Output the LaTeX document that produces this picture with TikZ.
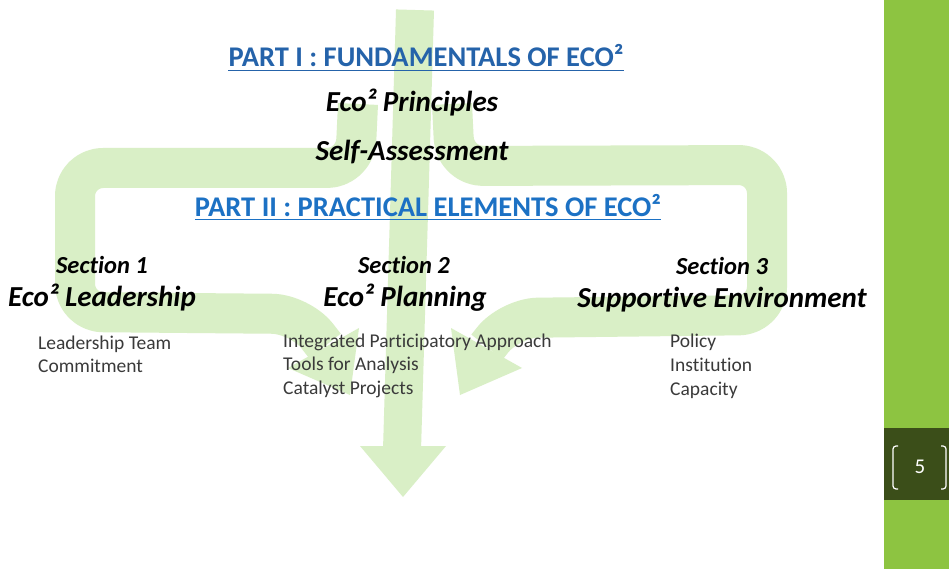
\documentclass[tikz,border=0pt]{standalone}
\usepackage{fontspec}
\setmainfont{Carlito}[Ligatures=NoCommon]
\definecolor{leaf}{HTML}{D9EFC6}
\definecolor{partblue}{HTML}{2563AA}
\definecolor{partbluetwo}{HTML}{1C71C4}
\definecolor{itemgray}{HTML}{3A3A3A}
\definecolor{sidegreen}{HTML}{8DC441}
\definecolor{sidedark}{HTML}{3B4E19}
\begin{document}
\begin{tikzpicture}[x=1pt,y=-1pt,
  parttitle/.style={font=\fontsize{28.5}{30}\selectfont\bfseries, text=partblue, inner sep=0pt, anchor=base},
  heading/.style={font=\fontsize{29}{31}\selectfont\bfseries\itshape, text=black, inner sep=0pt, anchor=base},
  sectitle/.style={font=\fontsize{24.5}{27}\selectfont\bfseries\itshape, text=black, inner sep=0pt, anchor=base},
  item/.style={font=\fontsize{19.5}{21}\selectfont, text=itemgray, inner sep=0pt, anchor=base west},
  band/.style={draw=leaf, line width=40pt, rounded corners=28pt, line cap=butt, line join=round},
  ulines/.style={line width=1.4pt}
]
\useasboundingbox (0,0) rectangle (949,569);
\fill[white] (0,0) rectangle (949,569);

% green arrow shape
\draw[band, line width=38pt] (415,10) -- (402,450);
\fill[leaf] (360,446) -- (446,446) -- (403,497) -- cycle;
\draw[band] (358,104) -- (355,168) -- (75,168) -- (75,312) -- (300,314) -- (325,346);
\fill[leaf] (359,328) -- (288,368) -- (350,395) -- cycle;
\draw[band] (452,104) -- (455,166) -- (767,165) -- (767,315) -- (510,318) -- (487,347);
\fill[leaf] (451,328) -- (522,368) -- (460,395) -- cycle;

% side bar
\fill[sidegreen] (884,0) rectangle (949,569);
\fill[sidedark] (884,428) rectangle (949,500);
\draw[white, line width=1.2pt, rounded corners=3pt] (898,446) -- (893,446) -- (893,489) -- (898,489);
\draw[white, line width=1.2pt, rounded corners=3pt] (941,446) -- (946,446) -- (946,489) -- (941,489);
\node[font=\fontsize{21}{23}\selectfont, text=white, inner sep=0pt] (pg) at (920,467) {5};

% titles
\node[parttitle] (p1) at (426,67) {PART I : FUNDAMENTALS OF ECO²};
\draw[ulines, draw=partblue] ([yshift=-3.5pt]p1.base west) -- ([yshift=-3.5pt]p1.base east);
\node[heading] (pr) at (412,112) {Eco² Principles};
\node[heading] (sa) at (412,161) {Self-Assessment};
\node[parttitle, text=partbluetwo] (p2) at (428,216) {PART II : PRACTICAL ELEMENTS OF ECO²};
\draw[ulines, draw=partbluetwo] ([yshift=-3.5pt]p2.base west) -- ([yshift=-3.5pt]p2.base east);

% sections
\node[sectitle] (s1) at (102,273) {Section 1};
\node[heading] (h1) at (102,306) {Eco² Leadership};
\node[sectitle] (s2) at (404,273) {Section 2};
\node[heading] (h2) at (405,306) {Eco² Planning};
\node[sectitle] (s3) at (722,274) {Section 3};
\node[heading] (h3) at (722,307) {Supportive Environment};

% items
\node[item] (a1) at (38,349) {Leadership Team};
\node[item] (a2) at (38,372) {Commitment};
\node[item] (b1) at (283,347) {Integrated Participatory Approach};
\node[item] (b2) at (283,370) {Tools for Analysis};
\node[item] (b3) at (283,394) {Catalyst Projects};
\node[item] (c1) at (670,347) {Policy};
\node[item] (c2) at (670,371) {Institution};
\node[item] (c3) at (670,395) {Capacity};
\end{tikzpicture}
\end{document}
